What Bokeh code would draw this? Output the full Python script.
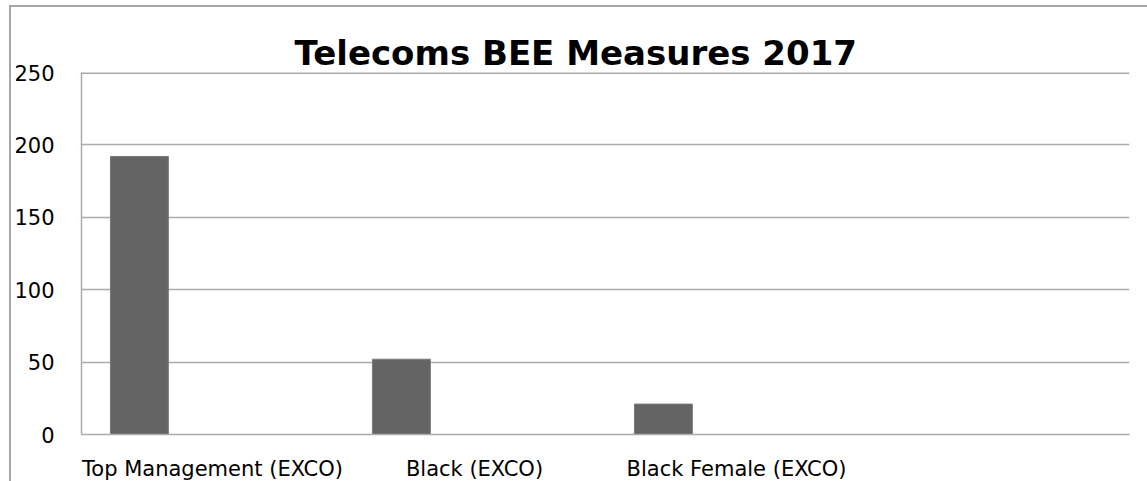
from bokeh.plotting import figure
from bokeh.models import Title, FixedTicker, Span
from bokeh.transform import dodge
from bokeh.embed import file_html
from bokeh.resources import INLINE

categories = ["Top Management (EXCO)", "Black (EXCO)", "Black Female (EXCO)", " "]
bar_categories = ["Top Management (EXCO)", "Black (EXCO)", "Black Female (EXCO)"]
values_2017 = [192, 52, 21]
y_ticks = [0, 50, 100, 150, 200, 250]

FONT = "DejaVu Sans"
GRID = "#ababab"

p = figure(x_range=categories, y_range=(0, 250), width=1138, height=476,
           output_backend="svg", toolbar_location=None,
           min_border_left=69, min_border_right=20, min_border_top=65, min_border_bottom=49)
p.margin = (5, 0, 0, 9)
p.styles = {"border-left": "2px solid #a6a6a6", "border-top": "2px solid #a6a6a6"}

p.vbar(x=dodge("x", -0.279, range=p.x_range), top="top", width=0.221,
       source=dict(x=bar_categories, top=values_2017),
       fill_color="#646464", line_color="#7a7a7a", line_width=1)

t = Title(text="Telecoms BEE Measures 2017", text_font=FONT, text_font_size="34px",
          text_font_style="bold", text_color="#000000", align="left", offset=213,
          standoff=0)
p.title = t

p.outline_line_color = None
p.xgrid.grid_line_color = None
p.ygrid.grid_line_color = GRID
p.ygrid.grid_line_width = 1.5
p.yaxis.ticker = FixedTicker(ticks=y_ticks)
p.add_layout(Span(location=y_ticks[-1], dimension="width", line_color=GRID, line_width=3))

p.yaxis.axis_line_color = GRID
p.yaxis.axis_line_width = 1.5
p.yaxis.major_tick_line_color = None
p.yaxis.minor_tick_line_color = None
p.yaxis.major_tick_out = 0
p.yaxis.major_tick_in = 0
p.yaxis.minor_tick_out = 0
p.yaxis.major_label_text_font = FONT
p.yaxis.major_label_text_font_size = "21px"
p.yaxis.major_label_text_color = "#000000"
p.yaxis.major_label_standoff = 27

p.xaxis.axis_line_color = GRID
p.xaxis.axis_line_width = 1.5
p.xaxis.major_tick_line_color = None
p.xaxis.minor_tick_line_color = None
p.xaxis.major_tick_out = 0
p.xaxis.major_tick_in = 0
p.xaxis.major_label_text_font = FONT
p.xaxis.major_label_text_font_size = "21px"
p.xaxis.major_label_text_color = "#000000"
p.xaxis.major_label_standoff = 22
p.x_range.range_padding = 0

p.background_fill_color = "white"
p.border_fill_color = "white"

open("out.html", "w").write(file_html(p, INLINE))
